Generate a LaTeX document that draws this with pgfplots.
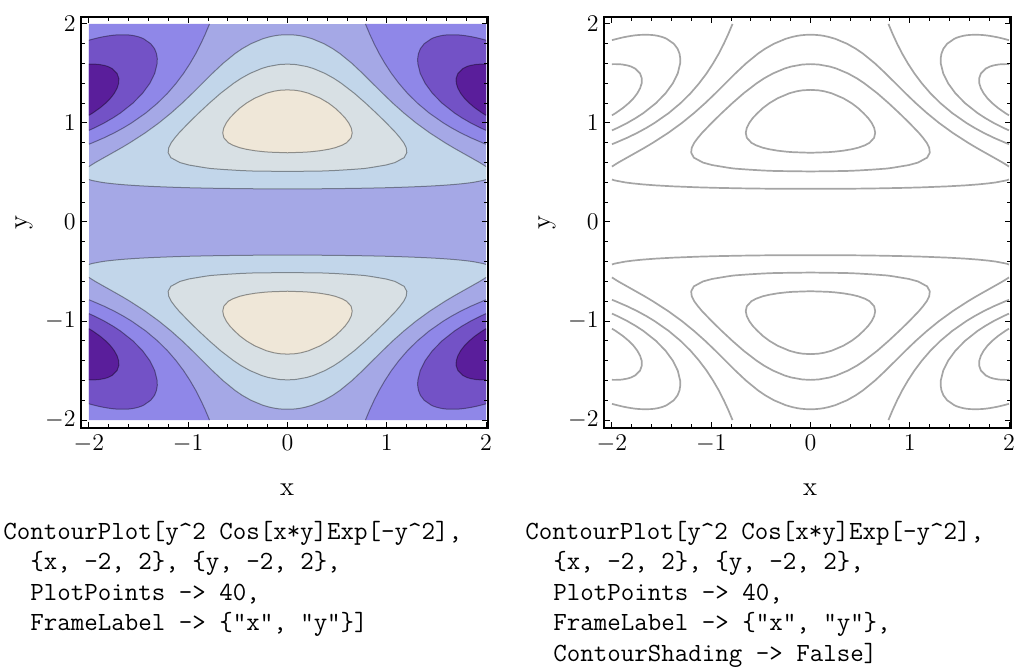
\documentclass[border=0pt]{standalone}
\usepackage{pgfplots}
\usepackage{pgfplotstable}
\pgfplotsset{compat=1.18}

\definecolor{bA}{RGB}{90,30,155}
\definecolor{bB}{RGB}{115,82,198}
\definecolor{bC}{RGB}{143,135,232}
\definecolor{bD}{RGB}{165,168,230}
\definecolor{bE}{RGB}{194,214,234}
\definecolor{bF}{RGB}{216,224,228}
\definecolor{bG}{RGB}{239,231,216}

% level 0.3 (closed)
\pgfplotstableread{
x y
0 0.699
0.177 0.705
0.242 0.71
0.330 0.72
0.418 0.735
0.480 0.75
0.5495 0.775
0.595 0.80
0.641 0.85
0.652 0.90
0.642 0.95
0.617 1.0
0.581 1.05
0.533 1.1
0.480 1.15
0.414 1.2
0.330 1.25
0.2125 1.3
0.1386 1.32
0.078 1.33
0 1.334
-0.078 1.33
-0.1386 1.32
-0.2125 1.3
-0.330 1.25
-0.414 1.2
-0.480 1.15
-0.533 1.1
-0.581 1.05
-0.617 1.0
-0.642 0.95
-0.652 0.90
-0.641 0.85
-0.595 0.80
-0.5495 0.775
-0.480 0.75
-0.418 0.735
-0.330 0.72
-0.242 0.71
-0.177 0.705
}\tabC

% level 0.2 (closed)
\pgfplotstableread{
x y
0 0.5103
0.356 0.515
0.478 0.52
0.641 0.53
0.773 0.54
0.842 0.55
0.991 0.575
1.083 0.60
1.175 0.65
1.202 0.70
1.196 0.75
1.171 0.80
1.134 0.85
1.092 0.90
0.996 1.0
0.894 1.1
0.787 1.2
0.673 1.3
0.543 1.4
0.468 1.45
0.378 1.5
0.260 1.55
0.193 1.57
0.083 1.59
0 1.5942
-0.083 1.59
-0.193 1.57
-0.260 1.55
-0.378 1.5
-0.468 1.45
-0.543 1.4
-0.673 1.3
-0.787 1.2
-0.894 1.1
-0.996 1.0
-1.092 0.90
-1.134 0.85
-1.171 0.80
-1.196 0.75
-1.202 0.70
-1.175 0.65
-1.083 0.60
-0.991 0.575
-0.842 0.55
-0.773 0.54
-0.641 0.53
-0.478 0.52
-0.356 0.515
}\tabB

% level 0.1, lower branch
\pgfplotstableread{
x y
-2 0.429
-1.972 0.42
-1.869 0.40
-1.792 0.39
-1.693 0.38
-1.562 0.37
-1.384 0.36
-1.131 0.35
-0.954 0.345
-0.71 0.34
-0.489 0.337
-0.32 0.3355
0 0.3348
0.32 0.3355
0.489 0.337
0.71 0.34
0.954 0.345
1.131 0.35
1.384 0.36
1.562 0.37
1.693 0.38
1.792 0.39
1.869 0.40
1.972 0.42
2 0.429
}\tabD

% level 0.1, upper branch
\pgfplotstableread{
x y
2 0.5595
1.984 0.57
1.968 0.58
1.936 0.60
1.848 0.65
1.759 0.70
1.671 0.75
1.5875 0.80
1.433 0.90
1.2955 1.0
1.173 1.1
1.061 1.2
0.957 1.3
0.857 1.4
0.757 1.5
0.651 1.6
0.529 1.7
0.456 1.75
0.368 1.8
0.249 1.85
0.179 1.87
0.131 1.88
0.098 1.885
0.05 1.8895
0 1.8907
-0.05 1.8895
-0.098 1.885
-0.131 1.88
-0.179 1.87
-0.249 1.85
-0.368 1.8
-0.456 1.75
-0.529 1.7
-0.651 1.6
-0.757 1.5
-0.857 1.4
-0.957 1.3
-1.061 1.2
-1.173 1.1
-1.2955 1.0
-1.433 0.90
-1.5875 0.80
-1.671 0.75
-1.759 0.70
-1.848 0.65
-1.936 0.60
-1.968 0.58
-1.984 0.57
-2 0.5595
}\tabA

% region above 0.1 (upper half)
\pgfplotstableread{
x y
-2 0.429
-1.972 0.42
-1.869 0.40
-1.792 0.39
-1.693 0.38
-1.562 0.37
-1.384 0.36
-1.131 0.35
-0.954 0.345
-0.71 0.34
-0.489 0.337
-0.32 0.3355
0 0.3348
0.32 0.3355
0.489 0.337
0.71 0.34
0.954 0.345
1.131 0.35
1.384 0.36
1.562 0.37
1.693 0.38
1.792 0.39
1.869 0.40
1.972 0.42
2 0.429
2 0.5595
1.984 0.57
1.968 0.58
1.936 0.60
1.848 0.65
1.759 0.70
1.671 0.75
1.5875 0.80
1.433 0.90
1.2955 1.0
1.173 1.1
1.061 1.2
0.957 1.3
0.857 1.4
0.757 1.5
0.651 1.6
0.529 1.7
0.456 1.75
0.368 1.8
0.249 1.85
0.179 1.87
0.131 1.88
0.098 1.885
0.05 1.8895
0 1.8907
-0.05 1.8895
-0.098 1.885
-0.131 1.88
-0.179 1.87
-0.249 1.85
-0.368 1.8
-0.456 1.75
-0.529 1.7
-0.651 1.6
-0.757 1.5
-0.857 1.4
-0.957 1.3
-1.061 1.2
-1.173 1.1
-1.2955 1.0
-1.433 0.90
-1.5875 0.80
-1.671 0.75
-1.759 0.70
-1.848 0.65
-1.936 0.60
-1.968 0.58
-1.984 0.57
-2 0.5595
}\tabBand

% level 0 (corner, x>0, y>0)
\pgfplotstableread{
x y
2 0.7854
1.9635 0.8
1.848 0.85
1.745 0.9
1.6535 0.95
1.571 1.0
1.428 1.1
1.309 1.2
1.208 1.3
1.122 1.4
1.047 1.5
0.982 1.6
0.924 1.7
0.873 1.8
0.827 1.9
0.7854 2.0
}\tabZ
\pgfplotstableread{
x y
2 0.7854
1.9635 0.8
1.848 0.85
1.745 0.9
1.6535 0.95
1.571 1.0
1.428 1.1
1.309 1.2
1.208 1.3
1.122 1.4
1.047 1.5
0.982 1.6
0.924 1.7
0.873 1.8
0.827 1.9
0.7854 2.0
2 2
}\tabZf

% level -0.1 (corner)
\pgfplotstableread{
x y
2 0.925
1.9447 0.95
1.846 1.0
1.7595 1.05
1.683 1.1
1.557 1.2
1.4595 1.3
1.3867 1.4
1.3375 1.5
1.3128 1.6
1.3115 1.65
1.3193 1.7
1.3391 1.75
1.377 1.8
1.449 1.85
1.4714 1.86
1.5005 1.87
1.540 1.88
1.5686 1.885
1.6035 1.889
1.6616 1.8907
1.7227 1.889
1.7647 1.885
1.802 1.88
1.8595 1.87
1.9067 1.86
1.947 1.85
1.985 1.84
2 1.836
}\tabMa

% level -0.2 (corner)
\pgfplotstableread{
x y
2 1.077
1.962 1.10
1.891 1.15
1.831 1.2
1.782 1.25
1.744 1.3
1.7167 1.35
1.7007 1.4
1.699 1.45
1.7168 1.5
1.767 1.55
1.808 1.57
1.8396 1.58
1.8924 1.59
1.917 1.5925
1.9707 1.5942
2 1.5937
}\tabMb

\newcommand{\fillpoly}[4]{\addplot[draw=none, fill=#1] table[x expr={#2*\thisrow{x}}, y expr={#3*\thisrow{y}}] {#4} -- cycle;}
\newcommand{\drawopen}[4]{\addplot[#1] table[x expr={#2*\thisrow{x}}, y expr={#3*\thisrow{y}}] {#4};}
\newcommand{\drawclosed}[4]{\addplot[#1] table[x expr={#2*\thisrow{x}}, y expr={#3*\thisrow{y}}] {#4} -- cycle;}

\newcommand{\cornerfill}[2]{%
  \fillpoly{bC}{#1}{#2}{\tabZf}%
  \fillpoly{bB}{#1}{#2}{\tabMa}%
  \fillpoly{bA}{#1}{#2}{\tabMb}%
}
\newcommand{\cornerlines}[3]{%
  \drawopen{#1}{#2}{#3}{\tabZ}%
  \drawopen{#1}{#2}{#3}{\tabMa}%
  \drawopen{#1}{#2}{#3}{\tabMb}%
}
\newcommand{\alllines}[1]{%
  \drawclosed{#1}{1}{1}{\tabC}\drawclosed{#1}{1}{-1}{\tabC}%
  \drawclosed{#1}{1}{1}{\tabB}\drawclosed{#1}{1}{-1}{\tabB}%
  \drawopen{#1}{1}{1}{\tabA}\drawopen{#1}{1}{-1}{\tabA}%
  \drawopen{#1}{1}{1}{\tabD}\drawopen{#1}{1}{-1}{\tabD}%
  \cornerlines{#1}{1}{1}\cornerlines{#1}{-1}{1}%
  \cornerlines{#1}{1}{-1}\cornerlines{#1}{-1}{-1}%
}

\pgfplotsset{
  lineL/.style={draw=black, draw opacity=0.38, line width=0.5pt},
  lineR/.style={draw={rgb,255:red,165;green,165;blue,165}, line width=0.85pt},
  mma/.style={
    scale only axis, width=203.5pt, height=205.5pt,
    xmin=-2.08, xmax=2.02, ymin=-2.08, ymax=2.07,
    xtick={-2,-1,0,1,2}, ytick={-2,-1,0,1,2},
    minor tick num=4,
    tick align=inside, tick pos=both, ticklabel pos=left,
    major tick length=3pt, minor tick length=1.8pt,
    every tick/.style={black, line width=0.5pt},
    axis line style={line width=0.6pt},
    axis on top,
    tick label style={font=\fontsize{13}{15}\selectfont},
    yticklabel style={inner sep=0pt, xshift=-2.5pt},
    xlabel={x}, ylabel={y},
    every axis x label/.style={at={(axis description cs:0.5,0)}, xshift=1.25pt, yshift=-31pt, anchor=center, font=\fontsize{13.5}{15}\selectfont},
    every axis y label/.style={at={(axis description cs:0,0.5)}, xshift=-28.5pt, rotate=90, anchor=center, font=\fontsize{13.5}{15}\selectfont},
  }
}

\newcommand{\codefont}{\fontsize{13.1}{15}\selectfont\ttfamily}

\begin{document}
\begin{tikzpicture}
\useasboundingbox (0pt,0pt) rectangle (509pt,-336pt);

\begin{axis}[mma, at={(40.5pt,-214pt)}, anchor=south west]
  \addplot[draw=none, fill=bD] coordinates {(-2,-2) (2,-2) (2,2) (-2,2)} -- cycle;
  \cornerfill{1}{1}\cornerfill{-1}{1}\cornerfill{1}{-1}\cornerfill{-1}{-1}
  \fillpoly{bE}{1}{1}{\tabBand}\fillpoly{bE}{1}{-1}{\tabBand}
  \fillpoly{bF}{1}{1}{\tabB}\fillpoly{bF}{1}{-1}{\tabB}
  \fillpoly{bG}{1}{1}{\tabC}\fillpoly{bG}{1}{-1}{\tabC}
  \alllines{lineL}
\end{axis}

\begin{axis}[mma, at={(302pt,-214pt)}, anchor=south west]
  \alllines{lineR}
\end{axis}

\begin{scope}[every node/.style={anchor=base west, inner sep=0pt, font=\codefont}]
\node at (1.5pt,-269.75pt) {ContourPlot[y\textasciicircum{}2 Cos[x*y]Exp[-y\textasciicircum{}2],};
\node at (15pt,-285pt) {\{x, -2, 2\}, \{y, -2, 2\},};
\node at (15pt,-300.25pt) {PlotPoints -> 40,};
\node at (15pt,-315.5pt) {FrameLabel -> \{"x", "y"\}]};
\node at (262.5pt,-269.75pt) {ContourPlot[y\textasciicircum{}2 Cos[x*y]Exp[-y\textasciicircum{}2],};
\node at (276.5pt,-285pt) {\{x, -2, 2\}, \{y, -2, 2\},};
\node at (276.5pt,-300.25pt) {PlotPoints -> 40,};
\node at (276.5pt,-315.5pt) {FrameLabel -> \{"x", "y"\},};
\node at (276.5pt,-330.75pt) {ContourShading -> False]};
\end{scope}
\end{tikzpicture}
\end{document}
